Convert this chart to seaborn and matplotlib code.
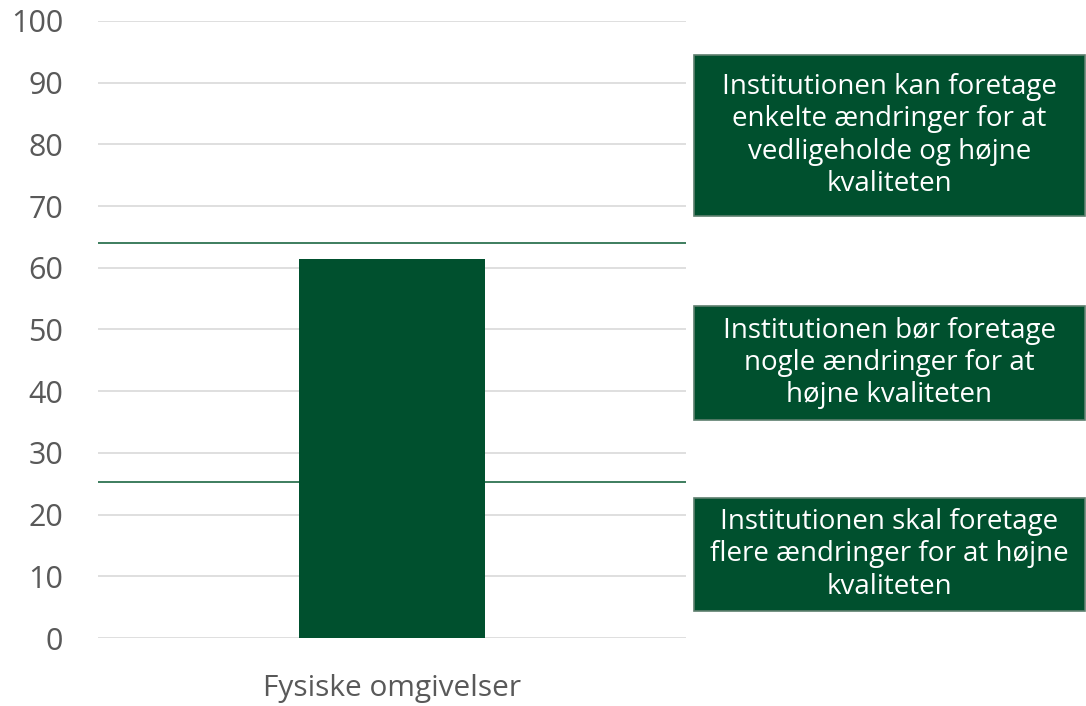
import matplotlib.pyplot as plt
import matplotlib.patches as mpatches
import pandas as pd
import seaborn as sns

# data
categories = ["Fysiske omgivelser"]
values = [61.4]
threshold_values = [64.0, 25.3]
box_texts = [
    "Institutionen kan foretage\nenkelte ændringer for at\nvedligeholde og højne\nkvaliteten",
    "Institutionen bør foretage\nnogle ændringer for at\nhøjne kvaliteten",
    "Institutionen skal foretage\nflere ændringer for at højne\nkvaliteten",
]

green = "#00502E"
line_green = "#2E7352"
grey_text = "#595959"

sns.set_style("white")
plt.rcParams["font.family"] = ["Open Sans", "DejaVu Sans"]

df = pd.DataFrame({"category": categories, "value": values})

fig = plt.figure(figsize=(10.86, 7.06), dpi=100)
ax = fig.add_axes([0.090, 0.0963, 0.542, 0.874])

sns.barplot(data=df, x="category", y="value", color=green, saturation=1,
            width=0.315, linewidth=0, ax=ax, zorder=3)

# threshold lines sit behind the bar
for t in threshold_values:
    ax.axhline(t, color=line_green, linewidth=1.3, zorder=2)

ax.set_ylim(0, 100)
ax.set_xlim(-0.5, 0.5)
ax.set_yticks(range(0, 101, 10))
ax.yaxis.grid(True, color="#D9D9D9", linewidth=1.2, zorder=0)
ax.set_axisbelow(True)
for s in ax.spines.values():
    s.set_visible(False)
ax.tick_params(axis="y", length=0, labelsize=22, colors=grey_text, pad=25)
ax.tick_params(axis="x", length=0, labelsize=21.5, colors=grey_text, pad=26)
ax.set_xlabel("")
ax.set_ylabel("")

# text boxes on the right, in figure coordinates
boxes = [(0.694, 0.228), (0.405, 0.161), (0.1346, 0.160)]
for (bottom, height), txt in zip(boxes, box_texts):
    rect = mpatches.Rectangle((0.639, bottom), 0.36, height, transform=fig.transFigure,
                              facecolor=green, edgecolor="#5E7F6E", linewidth=1.2)
    fig.add_artist(rect)
    fig.text(0.639 + 0.18, bottom + height / 2, txt, ha="center", va="center",
             color="white", fontsize=20, linespacing=1.2)

fig.savefig("out.png", dpi=100)
